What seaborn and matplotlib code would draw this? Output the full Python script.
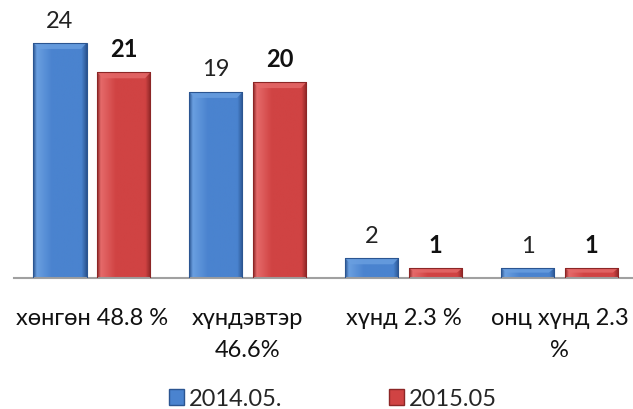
import numpy as np
import pandas as pd
import matplotlib
matplotlib.use("Agg")
import matplotlib.pyplot as plt
import seaborn as sns
from matplotlib.colors import LinearSegmentedColormap
from matplotlib.patches import Polygon, Patch

categories = ["хөнгөн 48.8 %", "хүндэвтэр\n46.6%", "хүнд 2.3 %", "онц хүнд 2.3\n%"]
series = ["2014.05.", "2015.05"]
values_2014 = [24, 19, 2, 1]
values_2015 = [21, 20, 1, 1]

df = pd.DataFrame({
    "category": categories * 2,
    "period": [series[0]] * 4 + [series[1]] * 4,
    "value": values_2014 + values_2015,
})

sns.set_theme(style="white")
plt.rcParams["font.family"] = ["Lato", "DejaVu Sans"]

# colours: (dark edge, highlight, main)
shades = {
    series[0]: ("#2b5591", "#6a9fe0", "#4a83cf"),
    series[1]: ("#8c2626", "#e56a6a", "#d04343"),
}

fig = plt.figure(figsize=(6.33, 4.10), dpi=100)
ax = fig.add_axes([14 / 633, 131 / 410, 619 / 633, 279 / 410])

sns.barplot(data=df, x="category", y="value", hue="period", order=categories,
            hue_order=series, palette=[shades[s][2] for s in series],
            width=0.82, gap=0.17, legend=False, ax=ax)

ax.set_xlim(-0.5, 3.47)
ax.set_ylim(0, 28.5)

for cont, s in zip(ax.containers, series):
    dark, light, main = shades[s]
    cmap = LinearSegmentedColormap.from_list(
        s, [(0, dark), (0.07, light), (0.35, main), (0.9, main), (1, dark)])
    for bar in cont:
        x0, y0 = bar.get_x(), bar.get_y()
        w, h = bar.get_width(), bar.get_height()
        grad = np.tile(np.linspace(0, 1, 200), (2, 1))
        im = ax.imshow(grad, cmap=cmap, aspect="auto", extent=(x0, x0 + w, y0, y0 + h),
                       origin="lower", zorder=2)
        im.set_clip_path(bar)
        bh = min(0.6, h * 0.45)
        dx = 0.035
        ax.add_patch(Polygon([(x0, y0 + h), (x0 + w, y0 + h), (x0 + w - dx, y0 + h - bh),
                              (x0 + dx, y0 + h - bh)], closed=True, facecolor=light,
                             edgecolor="none", alpha=0.8, zorder=2.5))
        bar.set_facecolor("none")
        bar.set_edgecolor(dark)
        bar.set_linewidth(0.8)
        bar.set_zorder(3)

ax.bar_label(ax.containers[0], labels=[str(v) for v in values_2014], padding=9,
             fontsize=17, color="#222222")
ax.bar_label(ax.containers[1], labels=[str(v) for v in values_2015], padding=9,
             fontsize=17, fontweight="bold", color="#111111")

ax.set_xlabel("")
ax.set_ylabel("")
ax.set_yticks([])
for sp in ["top", "left", "right"]:
    ax.spines[sp].set_visible(False)
ax.spines["bottom"].set_color("#a0a0a0")
ax.spines["bottom"].set_linewidth(1.5)
ax.tick_params(axis="x", length=0, pad=21, labelsize=17, colors="#111111")
for t in ax.get_xticklabels():
    t.set_linespacing(1.65)
    t.set_verticalalignment("top")

handles = [Patch(facecolor=shades[s][2], edgecolor=shades[s][0], label=s) for s in series]
fig.legend(handles=handles, loc="center", bbox_to_anchor=(333 / 633, 1 - 400 / 410),
           ncol=2, frameon=False, fontsize=17, handlelength=0.65, handleheight=0.65,
           handletextpad=0.2, columnspacing=4.5)

fig.savefig("out.png", dpi=100)
